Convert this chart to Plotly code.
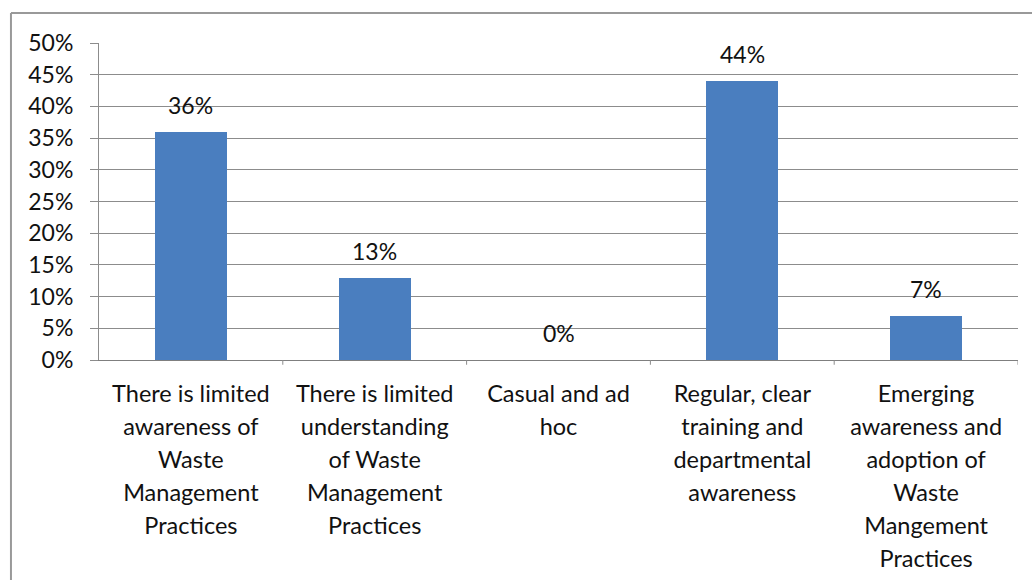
import plotly.graph_objects as go

categories = [
    "There is limited<br>awareness of<br>Waste<br>Management<br>Practices",
    "There is limited<br>understanding<br>of Waste<br>Management<br>Practices",
    "Casual and ad<br>hoc",
    "Regular, clear<br>training and<br>departmental<br>awareness",
    "Emerging<br>awareness and<br>adoption of<br>Waste<br>Mangement<br>Practices",
]
values = [0.36, 0.13, 0.00, 0.44, 0.07]
y_ticks = [0, 0.05, 0.10, 0.15, 0.20, 0.25, 0.30, 0.35, 0.40, 0.45, 0.50]
y_tick_labels = ["0%", "5%", "10%", "15%", "20%", "25%", "30%", "35%", "40%", "45%", "50%"]

FONT = "Lato, 'Open Sans', sans-serif"
TEXT_COLOR = "#111111"
BAR_COLOR = "#4a7ebf"

x_pos = list(range(len(categories)))
# wrap each line in a smaller span so the outer font size sets a looser line height
tick_text = [
    "<br>".join(f"<span style='font-size:23.5px'>{line}</span>" for line in c.split("<br>"))
    for c in categories
]

fig = go.Figure()
fig.add_trace(go.Bar(
    x=x_pos,
    y=values,
    width=0.39,
    marker=dict(color=BAR_COLOR, line=dict(width=0)),
    hoverinfo="skip",
))

for xi, v in zip(x_pos, values):
    fig.add_annotation(
        x=xi, y=v, xref="x", yref="y",
        text=f"{round(v * 100)}%",
        showarrow=False, yanchor="bottom", yshift=11,
        font=dict(family=FONT, size=23, color=TEXT_COLOR),
    )

fig.update_layout(
    width=1032, height=582,
    margin=dict(l=99, r=14, t=43, b=222),
    paper_bgcolor="white",
    plot_bgcolor="white",
    showlegend=False,
    bargap=0,
    font=dict(family=FONT, color=TEXT_COLOR),
)

fig.update_yaxes(
    range=[0, 0.5],
    tickvals=y_ticks,
    ticktext=y_tick_labels,
    tickfont=dict(family=FONT, size=23, color=TEXT_COLOR),
    showgrid=True, gridcolor="#8c8c8c", gridwidth=1,
    showline=True, linecolor="#8c8c8c", linewidth=1,
    ticks="outside", ticklen=8, tickcolor="#8c8c8c",
    ticklabelstandoff=12,
    zeroline=False,
    automargin=False,
    fixedrange=True,
)

fig.update_xaxes(
    range=[-0.5, len(categories) - 0.5],
    tickvals=x_pos,
    ticktext=tick_text,
    tickfont=dict(family=FONT, size=25.5, color=TEXT_COLOR),
    showline=True, linecolor="#7f7f7f", linewidth=1,
    ticks="",
    ticklabelstandoff=10,
    showgrid=False,
    zeroline=False,
    automargin=False,
    fixedrange=True,
)

# category divider ticks below the axis
for b in [i + 0.5 for i in x_pos[:-1]] + [len(categories) - 0.5]:
    fig.add_shape(
        type="line", xref="x", yref="paper",
        x0=b, x1=b, y0=0, y1=-0.015,
        line=dict(color="#8c8c8c", width=1),
    )

# chart frame
fig.add_shape(type="line", xref="paper", yref="paper",
              x0=-0.0958, x1=1.02, y0=1.0946, y1=1.0946,
              line=dict(color="#999999", width=2))
fig.add_shape(type="line", xref="paper", yref="paper",
              x0=-0.0958, x1=-0.0958, y0=1.0946, y1=-0.694,
              line=dict(color="#999999", width=2))

fig.write_html("out.html")
